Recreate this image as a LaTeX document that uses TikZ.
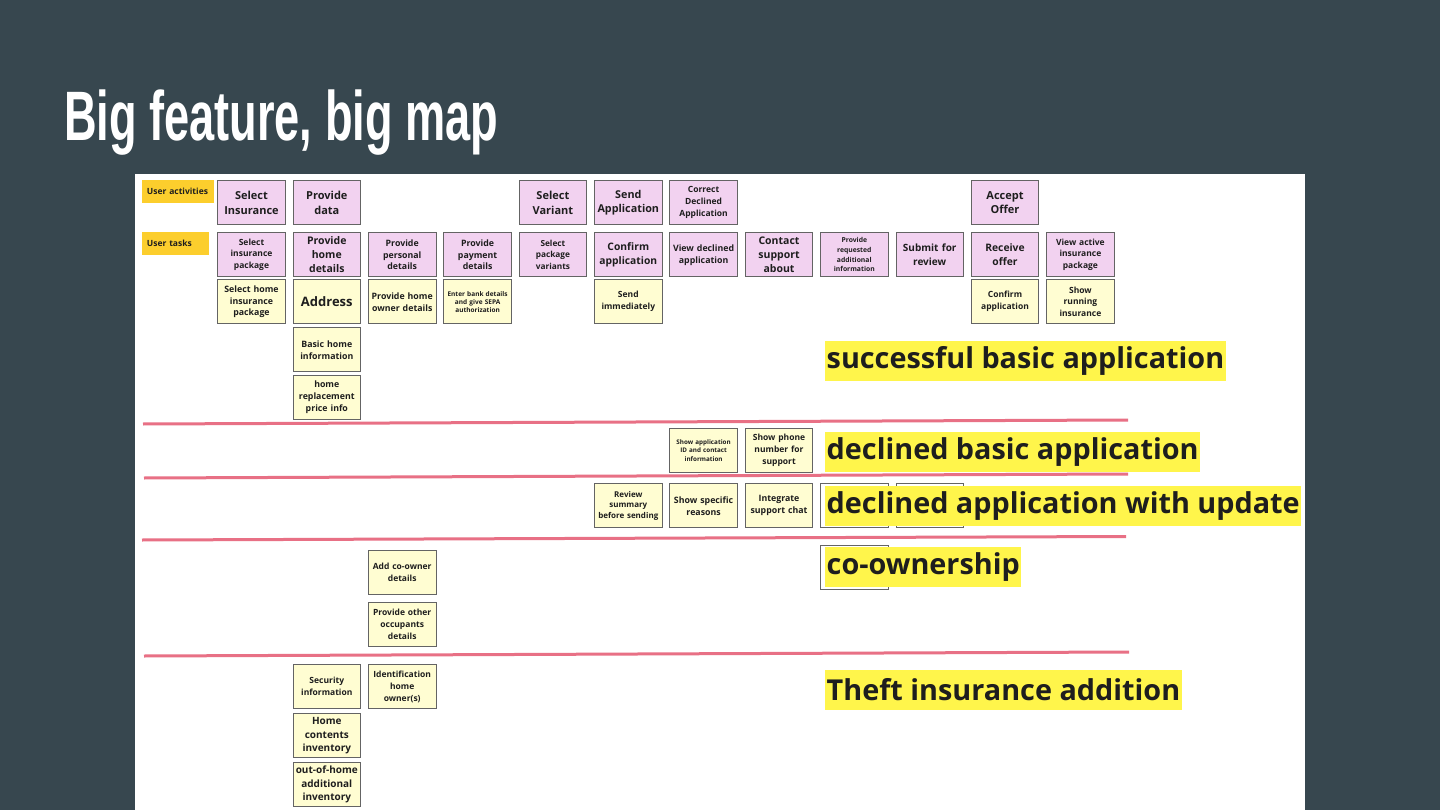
\documentclass[tikz,border=0pt]{standalone}
\usepackage{fontspec}
\setmainfont{Open Sans}
\newfontfamily\titlefont[FakeStretch=0.645]{Liberation Sans}
\definecolor{bgc}{RGB}{55,71,79}
\definecolor{pinkc}{RGB}{242,210,240}
\definecolor{yelc}{RGB}{255,253,210}
\definecolor{bordc}{RGB}{100,100,100}
\definecolor{labc}{RGB}{252,206,45}
\definecolor{hlc}{RGB}{255,245,75}
\definecolor{redc}{RGB}{232,112,133}
\definecolor{txtc}{RGB}{30,30,30}
\begin{document}
\begin{tikzpicture}[x=1pt,y=-1pt,
  box/.style={draw=bordc, line width=0.9pt, minimum width=67.5, minimum height=44,
    text width=63, inner sep=0, align=center, anchor=north west, text=txtc},
  pk/.style={box, fill=pinkc},
  yl/.style={box, fill=yelc},
  emptybox/.style={box, fill=white},
  fz/.style 2 args={font=\bfseries\fontsize{#1}{#2}\selectfont},
  labbox/.style={fill=labc, anchor=north west, minimum height=22.3, inner xsep=5,
    inner ysep=0, align=left, text=txtc, font=\bfseries\fontsize{8.5}{10}\selectfont},
  hl/.style={fill=hlc, anchor=west, minimum height=40, inner xsep=1.5, inner ysep=0,
    text=txtc, font=\bfseries\fontsize{28.8}{30}\selectfont},
  sep/.style={draw=redc, line width=3pt}
]
\fill[bgc] (0,0) rectangle (1440,810);
\useasboundingbox (0,0) rectangle (1440,810);
\fill[white] (135,174) rectangle (1305,810);

\node[anchor=base west, inner sep=0, text=white, font=\titlefont\bfseries\fontsize{70}{70}\selectfont]
  (title) at (64,141) {Big feature, big map};

% labels
\node[labbox, text width=61.6] (ua) at (141.7,180.3) {User activities};
\node[labbox, text width=57.3] (ut) at (141.7,232.3) {User tasks};

% activities
\node[pk, fz={11}{14.5}] (a1) at (217.3,180.3) {Select\\Insurance};
\node[pk, fz={11}{14.5}] (a2) at (292.6,180.3) {Provide\\data};
\node[pk, fz={11}{14.5}] (a5) at (518.7,180.3) {Select\\Variant};
\node[pk, fz={10.8}{14.5}] (a6) at (594.1,180.3) {Send\\Application};
\node[pk, fz={8.5}{12}] (a7) at (669.4,180.3) {Correct\\Declined\\Application};
\node[pk, fz={11}{14.5}] (a11) at (970.8,180.3) {Accept\\Offer};

% tasks
\node[pk, fz={8.5}{11.8}] (t1) at (217.3,232.3) {Select\\insurance\\package};
\node[pk, fz={10.5}{14}] (t2) at (292.6,232.3) {Provide\\home\\details};
\node[pk, fz={8.8}{11.8}] (t3) at (368.0,232.3) {Provide\\personal\\details};
\node[pk, fz={8.8}{11.8}] (t4) at (443.4,232.3) {Provide\\payment\\details};
\node[pk, fz={8.3}{11.8}] (t5) at (518.7,232.3) {Select\\package\\variants};
\node[pk, fz={10.3}{14}] (t6) at (594.1,232.3) {Confirm\\application};
\node[pk, fz={8.8}{12}] (t7) at (669.4,232.3) {View declined\\application};
\node[pk, fz={10.5}{14}] (t8) at (744.8,232.3) {Contact\\support\\about};
\node[pk, fz={6.8}{9.8}] (t9) at (820.1,232.3) {Provide\\requested\\additional\\information};
\node[pk, fz={10}{14}] (t10) at (895.5,232.3) {Submit for\\review};
\node[pk, fz={10.3}{14}] (t11) at (970.8,232.3) {Receive\\offer};
\node[pk, fz={8.5}{11.8}] (t12) at (1046.2,232.3) {View active\\insurance\\package};

% stories row 1
\node[yl, fz={8.8}{11.8}] (y11) at (217.3,279.3) {Select home\\insurance\\package};
\node[yl, fz={13}{15}] (y21) at (292.6,279.3) {Address};
\node[yl, fz={8.8}{12}] (y31) at (368.0,279.3) {Provide home\\owner details};
\node[yl, fz={6.5}{8}] (y41) at (443.4,279.3) {Enter bank details\\and give SEPA\\authorization};
\node[yl, fz={8.5}{12}] (y61) at (594.1,279.3) {Send\\immediately};
\node[yl, fz={8.5}{12}] (y111) at (970.8,279.3) {Confirm\\application};
\node[yl, fz={8.5}{11.5}] (y121) at (1046.2,279.3) {Show\\running\\insurance};
\node[yl, fz={8.8}{12}] (y22) at (292.6,327.3) {Basic home\\information};
\node[yl, fz={8.8}{12}] (y23) at (292.6,375.0) {home\\replacement\\price info};

% declined basic
\node[yl, fz={6.3}{8.5}] (d7) at (669.4,427.7) {Show application\\ID and contact\\information};
\node[yl, fz={8.5}{12}] (d8) at (744.8,427.7) {Show phone\\number for\\support};

% declined with update
\node[yl, fz={8}{10.5}] (u6) at (594.1,483.3) {Review\\summary\\before sending};
\node[yl, fz={8.8}{12}] (u7) at (669.4,483.3) {Show specific\\reasons};
\node[yl, fz={8.8}{12}] (u8) at (744.8,483.3) {Integrate\\support chat};
\node[emptybox] (u9) at (820.1,483.3) {};
\node[emptybox] (u10) at (895.5,483.3) {};

% co-ownership
\node[yl, fz={8.5}{12}] (c3) at (368.0,550.0) {Add co-owner\\details};
\node[yl, fz={8.5}{12}] (c3b) at (368.0,602.3) {Provide other\\occupants\\details};
\node[emptybox] (c9) at (820.1,545.0) {};

% theft
\node[yl, fz={8.5}{12}] (h2) at (292.6,664.0) {Security\\information};
\node[yl, fz={8.5}{12}] (h3) at (368.0,664.0) {Identification\\home\\owner(s)};
\node[yl, fz={10}{13.5}] (h2b) at (292.6,713.3) {Home\\contents\\inventory};
\node[yl, fz={10}{13.5}] (h2c) at (292.6,762.3) {out-of-home\\additional\\inventory};

% separators
\draw[sep] (143,424) -- (1128,420);
\draw[sep] (144,478) -- (1128,474);
\draw[sep] (142,540) -- (1126,536.5);
\draw[sep] (144,656) -- (1129,652);

% highlights
\node[hl] (s1) at (825,361.2) {successful basic application};
\node[hl] (s2) at (825,451.7) {declined basic application};
\node[hl] (s3) at (825,506.4) {declined application with update};
\node[hl] (s4) at (825,566.7) {co-ownership};
\node[hl] (s5) at (825,689.5) {Theft insurance addition};
\end{tikzpicture}
\end{document}
